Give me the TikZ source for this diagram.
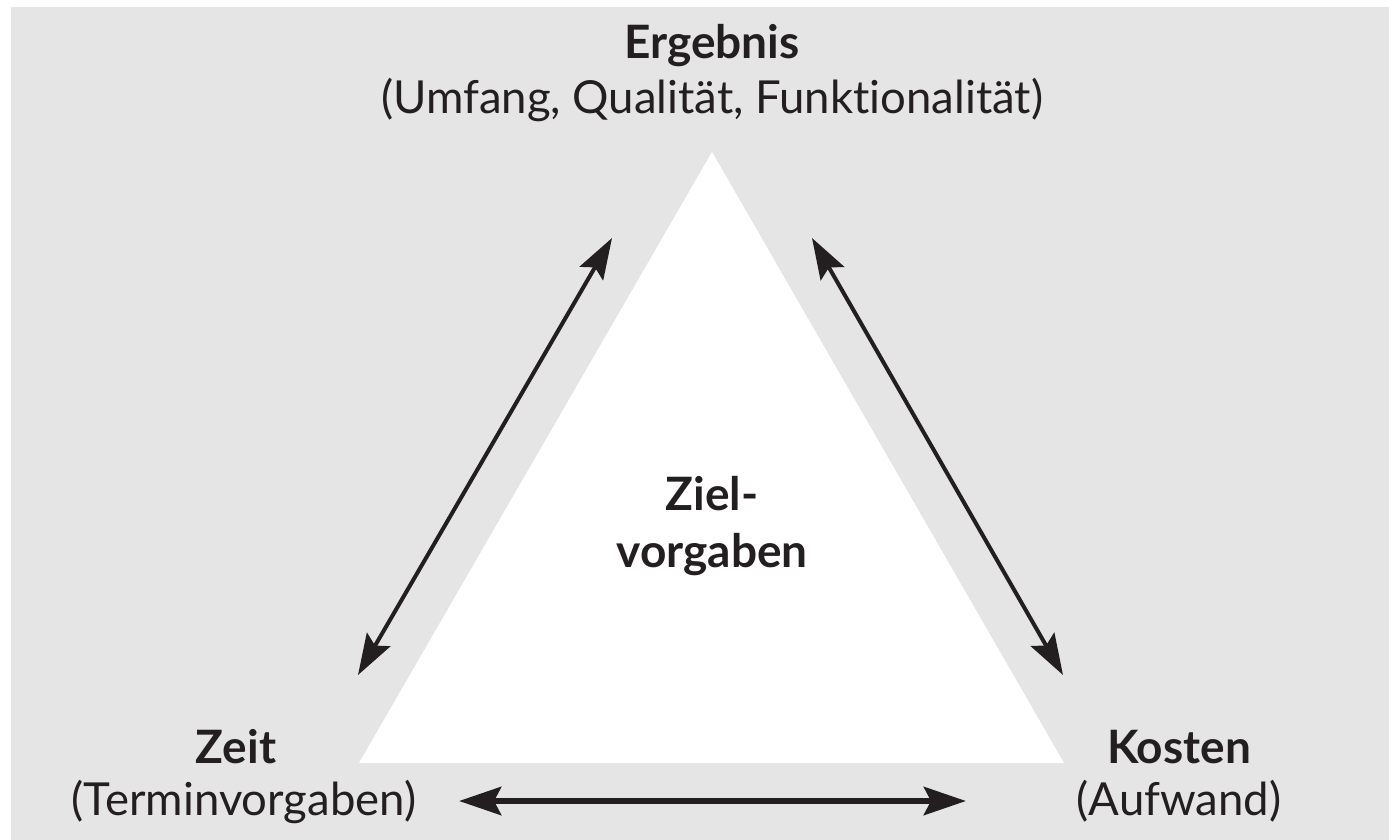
\documentclass[tikz,border=0pt]{standalone}
\usepackage{fontspec}
\setmainfont{Lato}[Ligatures=NoCommon]
\usetikzlibrary{arrows.meta}
\definecolor{bggray}{RGB}{229,229,229}
\definecolor{ink}{RGB}{35,31,32}
\begin{document}
\begin{tikzpicture}[x=1pt,y=-1pt,
  head/.style={font=\fontsize{46}{50}\selectfont\bfseries, text=ink, anchor=base, inner sep=0pt},
  sub/.style={font=\fontsize{45.5}{50}\selectfont, text=ink, anchor=base, inner sep=0pt},
  dbl/.style={draw=ink, line width=4pt, {Stealth[length=41pt,width=27pt,inset=7pt]}-{Stealth[length=41pt,width=27pt,inset=7pt]}},
  dblthick/.style={draw=ink, line width=6.5pt, {Stealth[length=42pt,width=28pt,inset=7pt]}-{Stealth[length=42pt,width=28pt,inset=7pt]}},
]
\useasboundingbox (0,0) rectangle (1389,840);
\fill[white] (0,0) rectangle (1389,840);
\fill[bggray] (11,7) rectangle (1389,840);
% triangle
\coordinate (apex) at (712,152);
\coordinate (bl) at (359,763);
\coordinate (br) at (1064,763);
\fill[white] (apex) -- (bl) -- (br) -- cycle;
% labels
\node[head] (erg) at (712,59) {Ergebnis};
\node[sub] (ergsub) at (712,114) {(Umfang, Qualität, Funktionalität)};
\node[head] (zeit) at (236,763) {Zeit};
\node[sub] (zeitsub) at (244,815) {(Terminvorgaben)};
\node[head] (kosten) at (1179,763) {Kosten};
\node[sub] (kostensub) at (1179,815) {(Aufwand)};
\node[head] (ziel) at (712,510) {Ziel-};
\node[head] (vorg) at (712,567) {vorgaben};
% arrow ends
\coordinate (la) at (358,675);
\coordinate (lb) at (612,238);
\coordinate (ra) at (812,238);
\coordinate (rb) at (1063,675);
\coordinate (ba) at (459,801);
\coordinate (bb) at (966,801);
\draw[dbl] (la) -- (lb);
\draw[dbl] (ra) -- (rb);
\draw[dblthick] (ba) -- (bb);
\end{tikzpicture}
\end{document}
